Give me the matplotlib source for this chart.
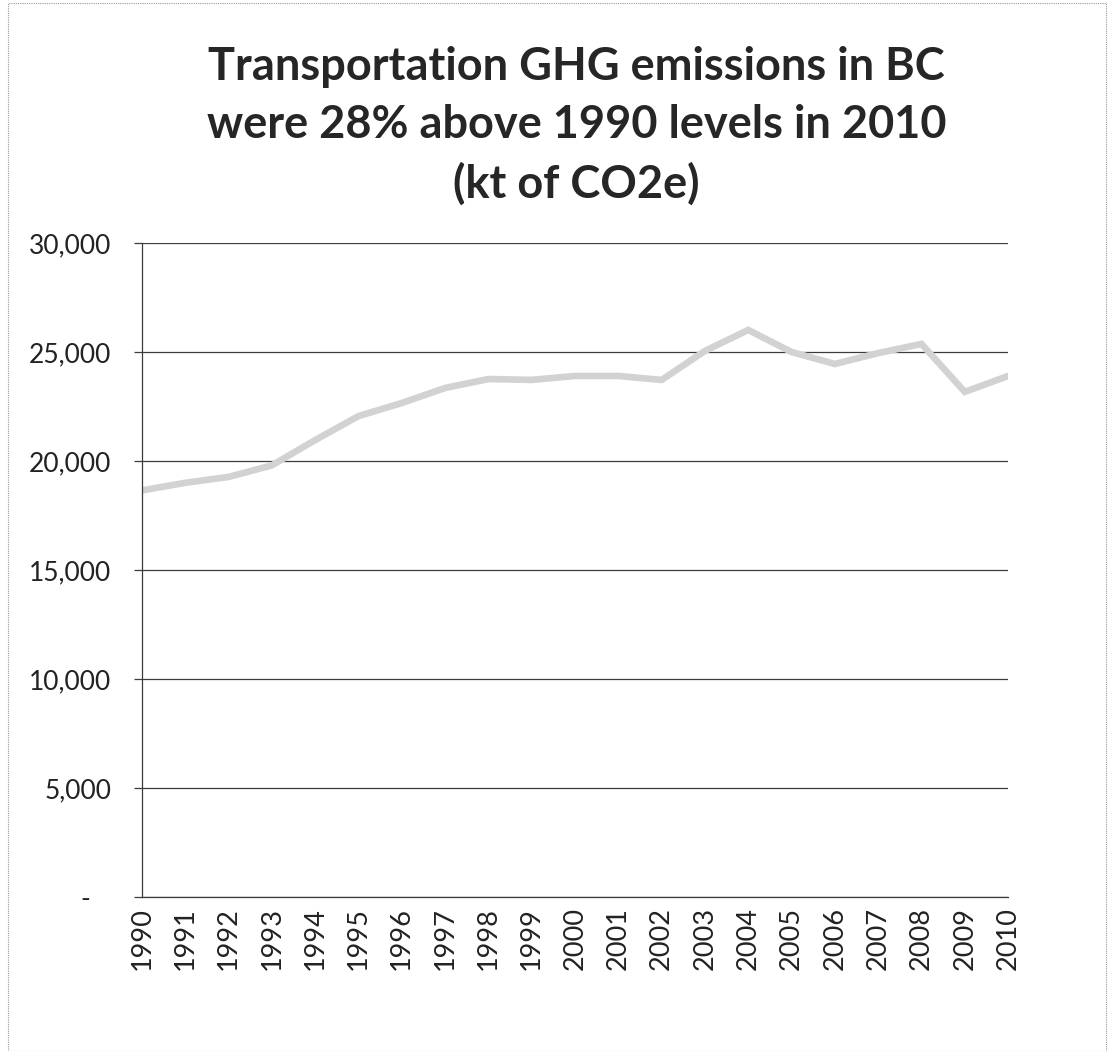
import matplotlib.pyplot as plt
from matplotlib.patches import Rectangle
from matplotlib.ticker import FuncFormatter

OUTPUT_PATH = "out.png"

TITLE = "Transportation GHG emissions in BC\nwere 28% above 1990 levels in 2010\n(kt of CO2e)"

# Annual transportation emissions, kt CO2e.
YEARS = list(range(1990, 2011))
EMISSIONS = [
    18650, 19000, 19270, 19800, 20960, 22060, 22660, 23350, 23760, 23720,
    23900, 23900, 23720, 25050, 26010, 25000, 24450, 24950, 25370, 23170,
    23900,
]
Y_TICKS = [0, 5000, 10000, 15000, 20000, 25000, 30000]

FONT = "Lato"


def fmt_thousands(v, _pos):
    # Accounting-style format: zero shows as a dash.
    if v == 0:
        return "-   "
    return f"{v:,.0f}"


def build_figure() -> plt.Figure:
    fig = plt.figure(figsize=(11.09, 10.51), dpi=100)
    ax = fig.add_axes([0.128, 0.1465, 0.781, 0.6223])

    ax.plot(YEARS, EMISSIONS, color="#d2d2d2", linewidth=4.8, solid_joinstyle="miter")

    ax.set_xlim(YEARS[0], YEARS[-1])
    ax.set_ylim(0, 30000)
    ax.set_yticks(Y_TICKS)
    ax.yaxis.set_major_formatter(FuncFormatter(fmt_thousands))
    ax.grid(axis="y", color="#3c3c3c", linewidth=0.9)
    ax.set_axisbelow(True)

    # Year labels on every year, tick marks only on even years.
    ax.set_xticks(YEARS)
    ax.set_xticklabels([str(y) for y in YEARS], rotation=90)
    ax.set_xticks(YEARS[::2], minor=True)
    ax.tick_params(axis="x", which="major", length=0, pad=7, labelsize=19.5)
    ax.tick_params(axis="x", which="minor", length=5, width=0.9, color="#3c3c3c")
    ax.tick_params(axis="y", length=6, width=0.9, color="#3c3c3c", pad=16, labelsize=19)
    for lbl in ax.get_xticklabels() + ax.get_yticklabels():
        lbl.set_fontfamily(FONT)
        lbl.set_color("#222222")

    for side in ("top", "right"):
        ax.spines[side].set_visible(False)
    for side in ("left", "bottom"):
        ax.spines[side].set_color("#3c3c3c")
        ax.spines[side].set_linewidth(0.9)

    fig.text(0.52, 0.956, TITLE, ha="center", va="top", fontsize=32.5,
             fontweight="bold", fontfamily=FONT, color="#262626", linespacing=1.46)

    # Thin frame round the whole chart area.
    fig.patches.append(Rectangle((0.007, 0.0), 0.99, 0.997, transform=fig.transFigure,
                                 fill=False, edgecolor="#9a9a9a", linewidth=0.8,
                                 linestyle=(0, (1, 1))))
    return fig


def main() -> None:
    fig = build_figure()
    fig.savefig(OUTPUT_PATH, dpi=100)
    plt.close(fig)


if __name__ == "__main__":
    main()
